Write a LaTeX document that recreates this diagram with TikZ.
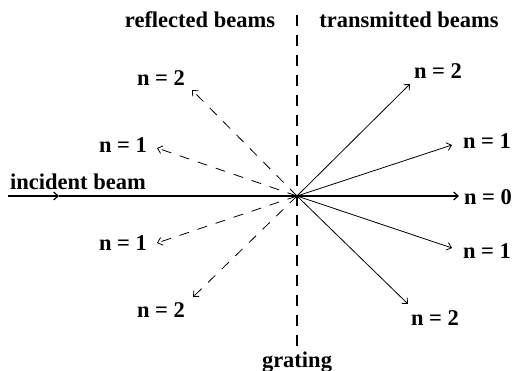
\documentclass[tikz,border=0pt]{standalone}
\usepackage{fontspec}
\setmainfont{Liberation Serif}
\usetikzlibrary{arrows.meta}
\begin{document}
\begin{tikzpicture}[x=1pt,y=-1pt,
  lbl/.style={inner sep=0pt,font=\fontsize{22.5}{26}\selectfont\bfseries},
  beam/.style={line width=0.8pt,-{Straight Barb[length=4.5pt,width=8pt]}},
  refl/.style={beam,dash pattern=on 10pt off 9pt},
  grat/.style={line width=1.7pt,dash pattern=on 11pt off 9pt}]
\useasboundingbox (0,0) rectangle (519,371);
\coordinate (O) at (297,196);
\coordinate (gt) at (297,15);
\coordinate (gb) at (297,348);
\coordinate (in) at (8,196);
\coordinate (im) at (59,196);
\coordinate (T2u) at (410,84);
\coordinate (T1u) at (452,145);
\coordinate (T0) at (459,196);
\coordinate (T1d) at (452,248);
\coordinate (T2d) at (408,304);
\coordinate (R2u) at (192,90);
\coordinate (R1u) at (157,148);
\coordinate (R1d) at (157,243);
\coordinate (R2d) at (193,297);
% grating
\draw[grat] (gt) -- (gb);
% incident beam
\draw[beam,line width=1.2pt] (in) -- (im);
\draw[line width=1.2pt] (im) -- (O);
\draw[beam,line width=1.2pt] (O) -- (T0);
% transmitted
\draw[beam] (O) -- (T2u);
\draw[beam] (O) -- (T1u);
\draw[beam] (O) -- (T1d);
\draw[beam] (O) -- (T2d);
% reflected
\draw[refl] (O) -- (R2u);
\draw[refl] (O) -- (R1u);
\draw[refl] (O) -- (R1d);
\draw[refl] (O) -- (R2d);
% labels
\node[lbl] (lr) at (200,20) {reflected beams};
\node[lbl] (lt) at (409,20) {transmitted beams};
\node[lbl] (li) at (78,182) {incident beam};
\node[lbl] (lg) at (297,362) {grating};
\node[lbl] (n0) at (488,197) {n = 0};
\node[lbl] (n1tu) at (487,141) {n = 1};
\node[lbl] (n2tu) at (438,71) {n = 2};
\node[lbl] (n1td) at (487,251) {n = 1};
\node[lbl] (n2td) at (435,318) {n = 2};
\node[lbl] (n2ru) at (161,78) {n = 2};
\node[lbl] (n1ru) at (123,145) {n = 1};
\node[lbl] (n1rd) at (123,243) {n = 1};
\node[lbl] (n2rd) at (161,310) {n = 2};
\end{tikzpicture}
\end{document}
